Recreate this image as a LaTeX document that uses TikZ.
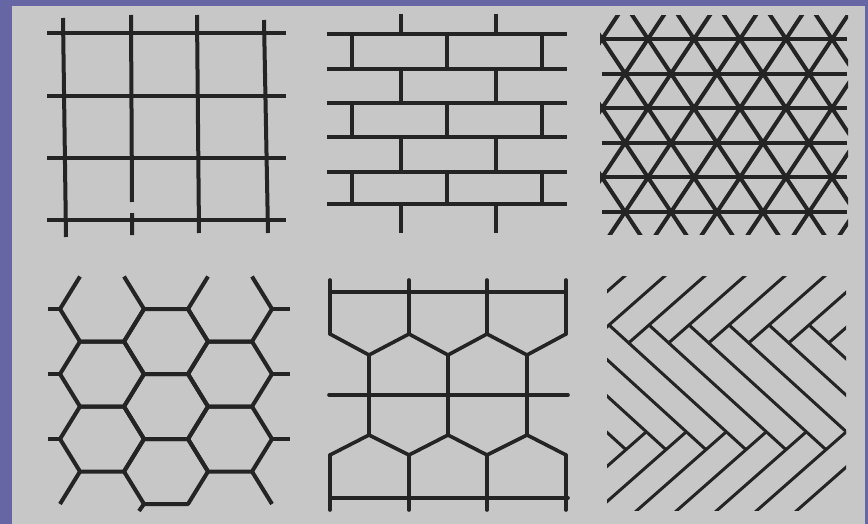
\documentclass[tikz,border=0pt]{standalone}
\usepackage{tkz-euclide}
\definecolor{frame}{RGB}{102,102,164}
\definecolor{paper}{RGB}{199,199,199}
\definecolor{ink}{RGB}{36,36,36}

\begin{document}
\begin{tikzpicture}[x=1pt,y=-1pt,line join=round]
\tkzSetUpLine[line width=3.6pt,color=ink]

\useasboundingbox (0,0) rectangle (868,524);
\fill[frame] (0,0) rectangle (868,524);
\fill[paper] (12,6) rectangle (865,524);

\begin{scope}[line width=4pt,draw=ink]
% square grid
\foreach \y in {33,96,158,220} \draw (47,\y) -- (286,\y);
\draw (63,18) -- (66,237);
\draw (131,15) -- (132,202) (132,213) -- (132,235);
\draw (197,15) -- (199,233);
\draw (264,20) -- (268,233);

% bricks
\foreach \y in {34,69,103,137,172,204} \draw (327,\y) -- (567,\y);
\foreach \a/\b in {34/69,103/137,172/204}
  \foreach \x in {352,447,542} \draw (\x,\a) -- (\x,\b);
\foreach \a/\b in {14/34,69/103,137/172,204/233}
  \foreach \x in {401,496} \draw (\x,\a) -- (\x,\b);

% hexagons
\foreach \cx/\cy in {102/374,102/439,166/341.5,166/406.5,166/471.5,230/374,230/439}
  \draw (\cx-42,\cy) -- ++(20,-32.5) -- ++(44,0) -- ++(20,32.5)
    -- ++(-20,32.5) -- ++(-44,0) -- cycle;
\foreach \cx in {102,230}
  \draw (\cx-22,276.5) -- ++(-20,32.5) -- ++(20,32.5) -- ++(44,0)
    -- ++(20,-32.5) -- ++(-20,-32.5);
\foreach \y in {309,374,439} {
  \draw (60,\y) -- (48,\y);
  \draw (272,\y) -- (290,\y);
}
\draw (80,471.5) -- (60,504);
\draw (252,471.5) -- (272,504);
\draw (144,504) -- (139,511);

% triangles
\begin{scope}
\clip (600,16) rectangle (848,234);
\foreach \k in {0,...,5} \draw (602,39+34.6*\k) -- (847,39+34.6*\k);
\foreach \j in {-4,...,9} {
  \draw ({602+46*\j-23},4.4) -- ++(207,311.4);
  \draw ({602+46*\j+23},4.4) -- ++(-207,311.4);
}
\end{scope}
\end{scope}

% pentagons
\tkzDefPoints{330/334/U1,369/355/U2,409/334/U3,448/355/U4,487/334/U5,527/355/U6,566/334/U7}
\tkzDefPoints{330/455/W1,369/435/W2,409/455/W3,448/435/W4,487/455/W5,527/435/W6,566/455/W7}
\tkzDefPoints{330/280/T1,409/280/T3,487/280/T5,566/280/T7}
\tkzDefPoints{330/510/B1,409/510/B3,487/510/B5,566/510/B7}
\tkzDefPoints{330/292/H1,566/292/H2,329/395/M1,568/395/M2,330/498/K1,568/498/K2}
\tkzDrawPolySeg(U1,U2,U3,U4,U5,U6,U7)
\tkzDrawPolySeg(W1,W2,W3,W4,W5,W6,W7)
\tkzDrawSegments(H1,H2 M1,M2 K1,K2 T1,U1 T3,U3 T5,U5 T7,U7)
\tkzDrawSegments(W1,B1 W3,B3 W5,B5 W7,B7 U2,W2 U4,W4 U6,W6)

% herringbone
\begin{scope}[line width=3pt,draw=ink]
\clip (607,276) rectangle (846,510);
\foreach \k in {-3,...,7} {
  \pgfmathsetmacro\sx{609+40*(\k-1)}
  \draw (\sx,325) -- ++(137,124.7);
  \draw (\sx-20.3,342.9) -- ++(90,-79.2);
}
\foreach \k in {-3,...,4} {
  \pgfmathsetmacro\sx{609+40*(\k-1)}
  \draw (\sx+157.3,431.8) -- ++(-100,88);
}
\end{scope}
\end{tikzpicture}
\end{document}
